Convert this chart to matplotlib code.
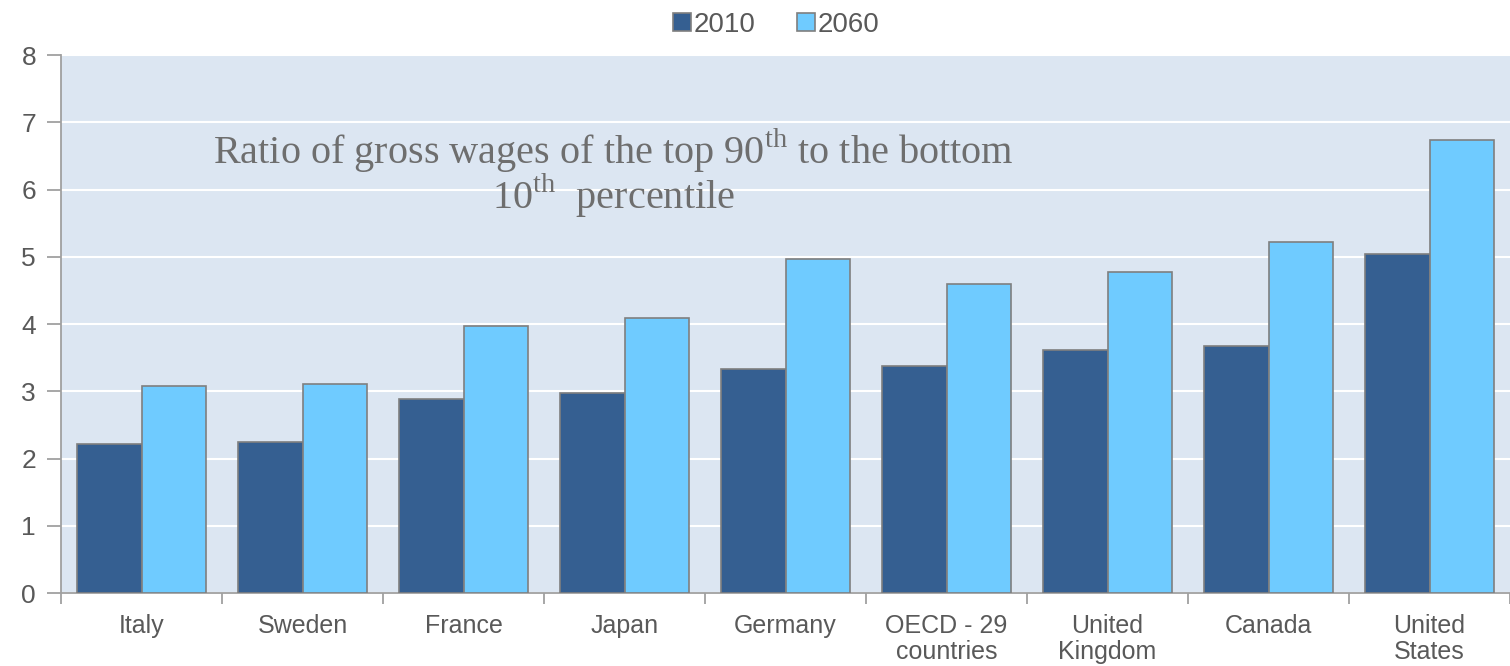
import numpy as np
import matplotlib.pyplot as plt

countries = ['Italy', 'Sweden', 'France', 'Japan', 'Germany',
             'OECD - 29\ncountries', 'United\nKingdom', 'Canada', 'United\nStates']
ratio_2010 = [2.22, 2.25, 2.88, 2.97, 3.33, 3.38, 3.61, 3.67, 5.04]
ratio_2060 = [3.08, 3.11, 3.97, 4.09, 4.97, 4.59, 4.77, 5.22, 6.74]

plt.rcParams['mathtext.fontset'] = 'custom'
plt.rcParams['mathtext.rm'] = 'Liberation Serif'

fig = plt.figure(figsize=(15.1, 6.66), dpi=100)
ax = fig.add_axes([0.0404, 0.1096, 0.9596, 0.8078])
ax.set_facecolor('#DCE6F2')

x = np.arange(len(countries))
w = 0.4
ax.bar(x - w / 2, ratio_2010, w, color='#355F91', edgecolor='#7F7F7F', linewidth=1.2, label='2010', zorder=3)
ax.bar(x + w / 2, ratio_2060, w, color='#6FCBFF', edgecolor='#7F7F7F', linewidth=1.2, label='2060', zorder=3)

ax.set_xlim(-0.5, len(countries) - 0.5)
ax.set_ylim(0, 8)
ax.set_yticks(range(0, 9))
ax.yaxis.grid(True, color='white', linewidth=1.5, zorder=0)
ax.set_axisbelow(True)

for s in ['top', 'right']:
    ax.spines[s].set_visible(False)
for s in ['left', 'bottom']:
    ax.spines[s].set_color('#A0A0A0')
    ax.spines[s].set_linewidth(1.3)

ax.set_xticks(x)
ax.set_xticklabels(countries)
ax.set_xticks(np.arange(-0.5, len(countries)), minor=True)
ax.tick_params(axis='x', which='major', length=0, pad=15, labelsize=18, labelcolor='#595959')
ax.tick_params(axis='x', which='minor', length=8, color='#A0A0A0', width=1.3)
ax.tick_params(axis='y', length=10, color='#A0A0A0', width=1.3, pad=8, labelsize=19, labelcolor='#595959')
for lab in ax.get_xticklabels() + ax.get_yticklabels():
    lab.set_family('Liberation Sans')
    lab.set_linespacing(1.1)

# two-line caption inside the plot area
ax.text(0.381, 6.39, r'Ratio of gross wages of the top 90$^{\rm th}$ to the bottom',
        transform=ax.get_yaxis_transform(), ha='center', va='baseline', fontsize=29,
        family='Liberation Serif', color='#6E6E6E')
ax.text(0.381, 5.72, r'10$^{\rm th}$  percentile',
        transform=ax.get_yaxis_transform(), ha='center', va='baseline', fontsize=29,
        family='Liberation Serif', color='#6E6E6E')

fig.legend(loc='upper center', bbox_to_anchor=(0.514, 1.02), ncol=2, frameon=False,
           prop={'family': 'Liberation Sans', 'size': 20}, labelcolor='#595959',
           handlelength=0.65, handleheight=0.65, handletextpad=0.1, columnspacing=1.5)

fig.savefig('out.png', dpi=100)
